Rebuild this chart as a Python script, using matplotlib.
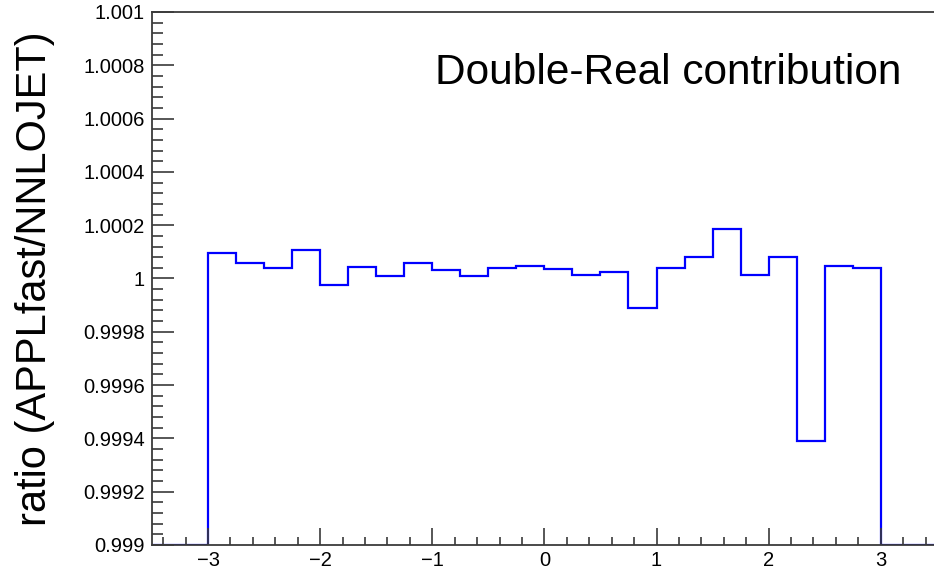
import numpy as np
import matplotlib
matplotlib.use("Agg")
import matplotlib.pyplot as plt
from matplotlib.ticker import MultipleLocator, AutoMinorLocator

plt.rcParams["font.family"] = ["Liberation Sans", "DejaVu Sans"]

# rapidity bins (-3.5 .. 3.5, width 0.25); empty bins outside |y| < 3
bin_edges = np.arange(-3.5, 3.5 + 1e-9, 0.25)
ratio = [
    0.0, 0.0,
    1.000095, 1.000057, 1.000039, 1.000108, 0.999976, 1.000042,
    1.000010, 1.000057, 1.000033, 1.000008, 1.000039, 1.000045,
    1.000035, 1.000014, 1.000026, 0.999891, 1.000039, 1.000079,
    1.000185, 1.000014, 1.000079, 0.999392, 1.000045, 1.000041,
    0.0, 0.0,
]
y_min, y_max = 0.999, 1.001
y_ticks = [0.999, 0.9992, 0.9994, 0.9996, 0.9998, 1.0, 1.0002, 1.0004, 1.0006, 1.0008, 1.001]
y_ticklabels = ["0.999", "0.9992", "0.9994", "0.9996", "0.9998", "1",
                "1.0002", "1.0004", "1.0006", "1.0008", "1.001"]
x_ticks = [-3, -2, -1, 0, 1, 2, 3]

fig = plt.figure(figsize=(9.34, 5.68), dpi=100)
ax = fig.add_axes([0.1627, 0.0405, 0.8403, 0.9384])

# empty bins are drawn along the frame floor, like ROOT does
vals = np.clip(ratio, y_min, y_max)
ax.stairs(vals, bin_edges, color="#0000ff", lw=1.6, baseline=None)

ax.set_xlim(-3.5, 3.5)
ax.set_ylim(y_min, y_max)

ax.set_xticks(x_ticks)
ax.xaxis.set_minor_locator(MultipleLocator(0.2))
ax.set_yticks(y_ticks)
ax.set_yticklabels(y_ticklabels)
ax.yaxis.set_minor_locator(AutoMinorLocator(5))

frame_col = "#3a3a3a"
for side in ["left", "bottom", "top"]:
    ax.spines[side].set_color(frame_col)
    ax.spines[side].set_linewidth(1.3)
ax.spines["right"].set_visible(False)

ax.tick_params(axis="y", which="major", direction="in", length=16, width=1.2,
               color=frame_col, labelsize=14.5, pad=5)
ax.tick_params(axis="y", which="minor", direction="in", length=8, width=1.2, color=frame_col)
ax.tick_params(axis="x", which="major", direction="in", length=12, width=1.2,
               color=frame_col, labelsize=14.5, pad=4)
ax.tick_params(axis="x", which="minor", direction="in", length=6, width=1.2, color=frame_col)

ax.set_ylabel("ratio (APPLfast/NNLOJET)", fontsize=30)
ax.yaxis.set_label_coords(-0.124, 0.5)

fig.text(435 / 934, 1 - 84 / 568, "Double-Real contribution", fontsize=30.5,
         ha="left", va="baseline")

fig.savefig("out.png", dpi=100)
